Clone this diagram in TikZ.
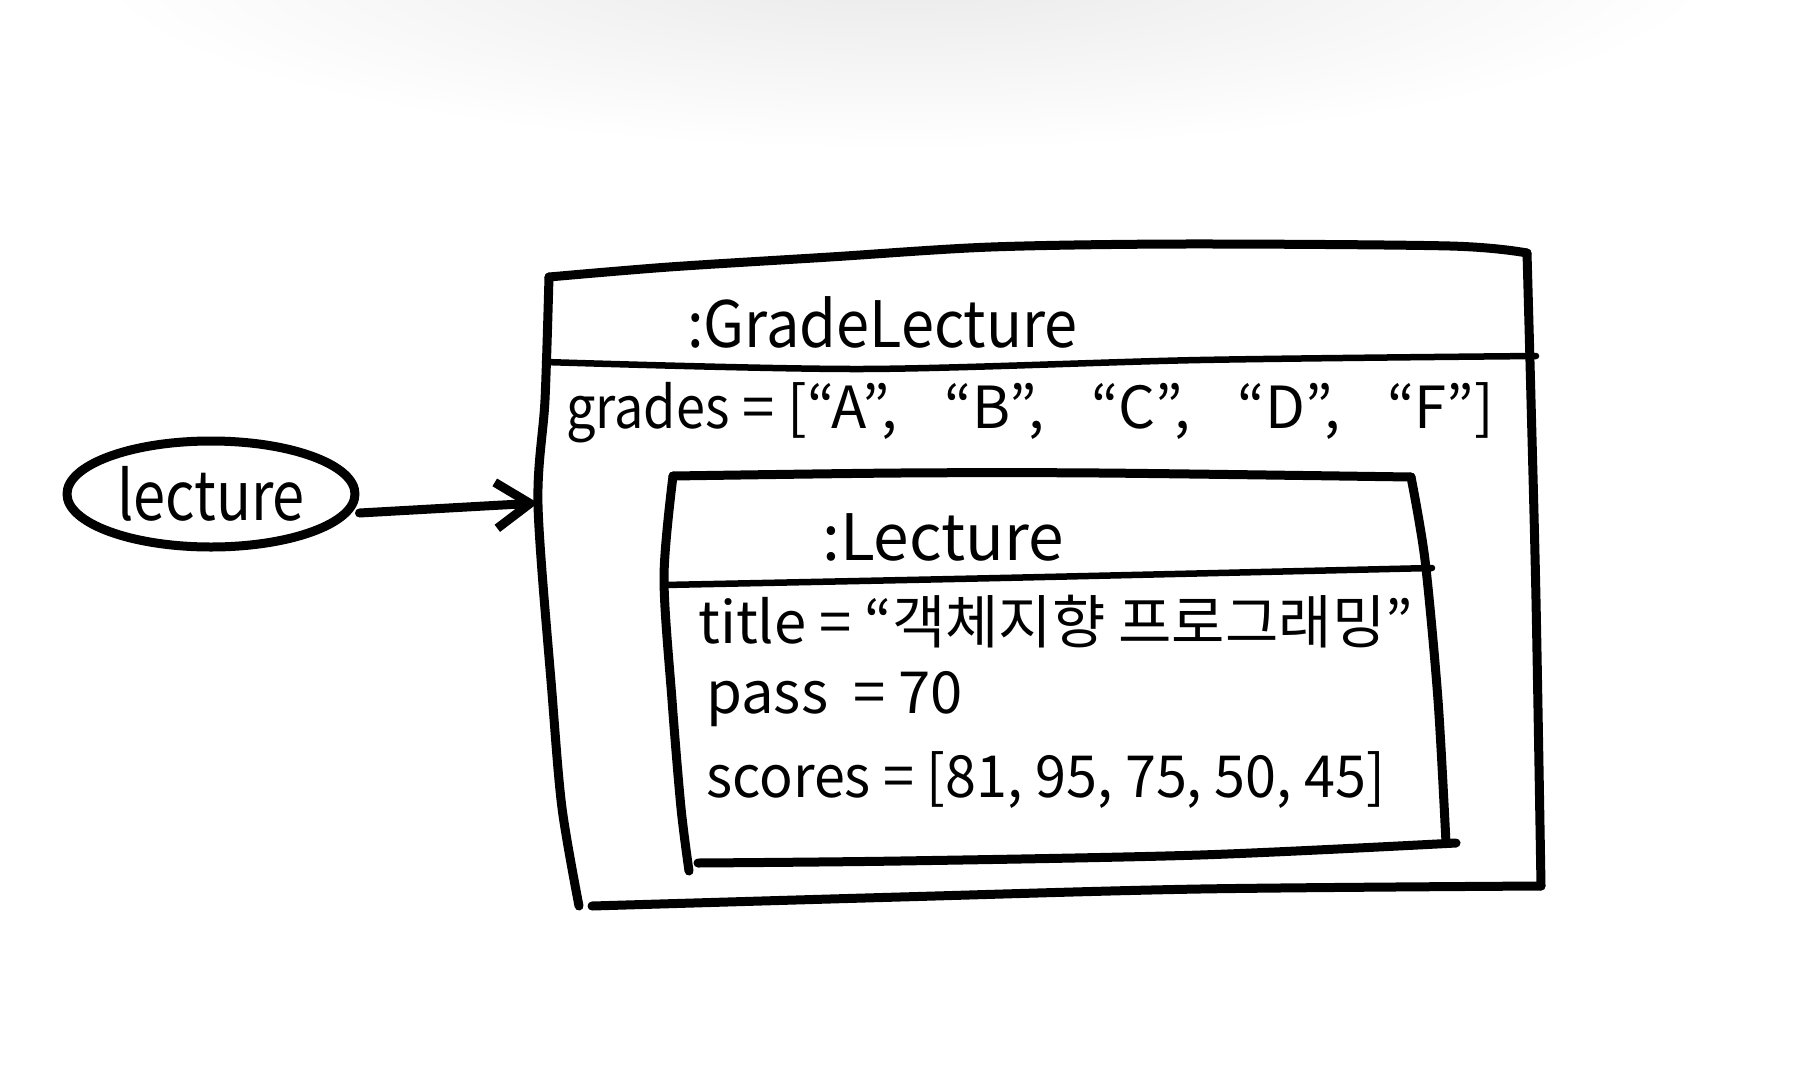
\documentclass[tikz,border=0pt]{standalone}
\usepackage{fontspec}
\setmainfont{Noto Sans CJK KR}
\usetikzlibrary{arrows.meta,shapes.geometric}
\begin{document}
\begin{tikzpicture}[x=1pt,y=-1pt,
  stroke/.style={line width=9pt,line cap=round,line join=round},
  midstroke/.style={line width=6.5pt,line cap=round,line join=round},
  lbl/.style={anchor=base west,inner sep=0pt},
  bigfont/.style={font=\fontsize{64}{70}\selectfont},
  txtfont/.style={font=\fontsize{58}{64}\selectfont},
]
\useasboundingbox (0,0) rectangle (1810,1079);
\fill[white] (0,0) rectangle (1810,1079);
\shade[inner color=black!9,outer color=white] (905,-40) ellipse [x radius=820pt, y radius=190pt];

% outer object box
\draw[stroke] plot[smooth] coordinates {(549,277) (669,267) (830,257) (991,247) (1184,244) (1450,246) (1527,253)};
\draw[stroke] plot[smooth] coordinates {(1527,253) (1531,400) (1536,600) (1541,886)};
\draw[stroke] plot[smooth] coordinates {(1541,886) (1200,889) (900,897) (592,906)};
\draw[stroke] plot[smooth] coordinates {(549,277) (545,400) (538,505) (552,693) (562,808) (579,906)};
\draw[midstroke] plot[smooth] coordinates {(545,362) (862,369) (1200,360) (1536,356)};
\coordinate (outerW) at (538,503);

% inner object box
\draw[stroke] plot[smooth] coordinates {(673,476) (900,473) (1100,473) (1411,477)};
\draw[stroke] plot[smooth] coordinates {(1411,477) (1425,560) (1438,700) (1446,843)};
\draw[stroke] plot[smooth] coordinates {(1456,843) (1200,855) (900,861) (698,863)};
\draw[stroke] plot[smooth] coordinates {(673,476) (664,577) (672,700) (681,808) (689,871)};
\draw[midstroke] plot[smooth] coordinates {(664,585) (1000,578) (1432,568)};

% texts
\node[lbl,bigfont] (gradetitle) at (687,347) {\scalebox{0.93}[1]{:GradeLecture}};
\node[lbl,txtfont] (grades) at (566,428) {\scalebox{0.9}[1]{grades} = [“A”,\hspace{47pt}“B”,\hspace{47pt}“C”,\hspace{47pt}“D”,\hspace{47pt}“F”]};
\node[lbl,bigfont] (lecturetitle) at (822,560) {:Lecture};
\node[lbl,txtfont] (title) at (698,643) {title = “객체지향 프로그래밍”};
\node[lbl,txtfont] (pass) at (706,713) {pass \hspace{12pt}= 70};
\node[lbl,txtfont] (scores) at (706,797) {\scalebox{0.96}[1]{scores = [81, 95, 75, 50, 45]}};

% variable
\node[ellipse,draw,stroke,minimum width=288pt,minimum height=106pt,inner sep=0pt,
      font=\fontsize{68}{74}\selectfont] (lecturevar) at (211,494) {\makebox[0pt]{\scalebox{0.85}[1]{lecture}}};
\draw[stroke,-{Straight Barb[length=34pt,width=46pt]}] ([yshift=-19pt]lecturevar.east) -- (outerW);
\end{tikzpicture}
\end{document}
